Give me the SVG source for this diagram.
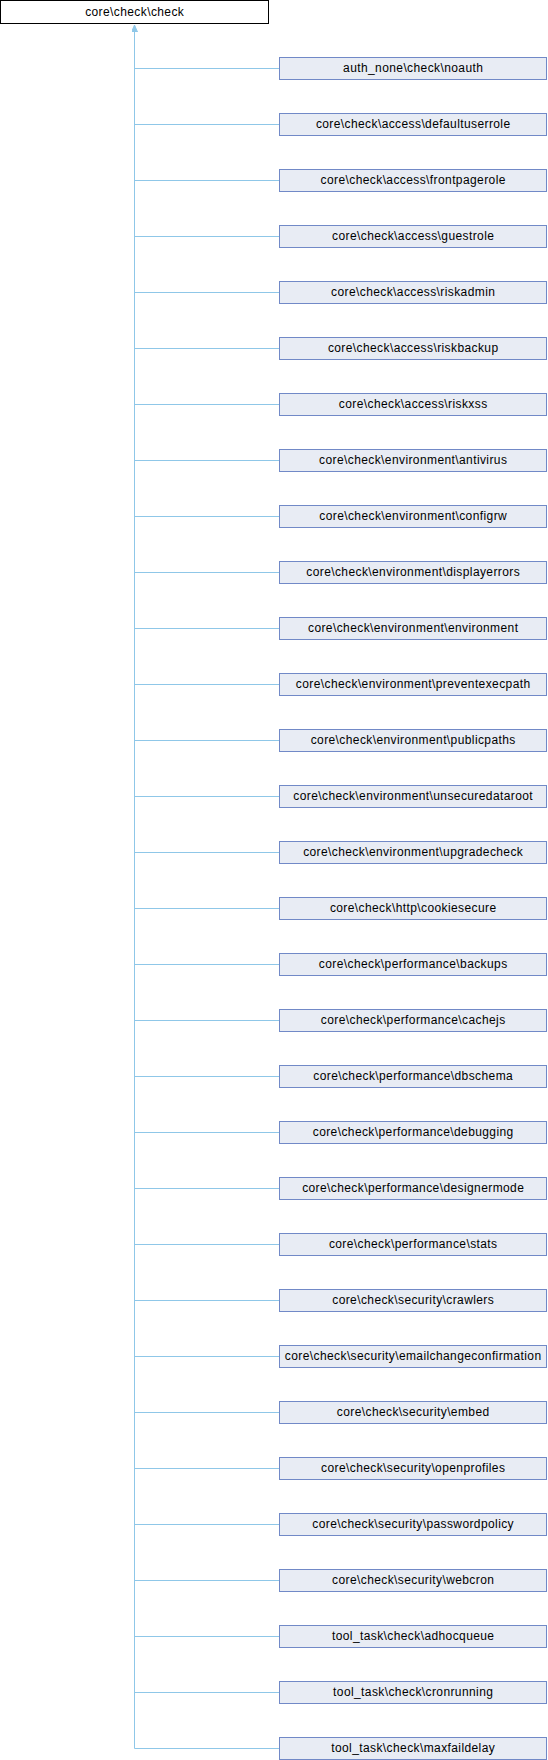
<svg xmlns="http://www.w3.org/2000/svg" width="548" height="1760" viewBox="0 0 548 1760">
<style>
.n rect{fill:#e8ecf4;stroke:#7189c7;stroke-width:1}
.r rect{fill:#ffffff;stroke:#000000;stroke-width:1}
text{font-family:"Liberation Sans",Arial,sans-serif;font-size:12px;letter-spacing:0.4px;text-anchor:middle;fill:#000}
.e{fill:none;stroke:#8fc7e8;stroke-width:1}
</style>
<defs>
<marker id="ah" markerWidth="8" markerHeight="8" refX="7" refY="3" orient="auto" markerUnits="userSpaceOnUse">
<path d="M0,0 L7,3 L0,6 Z" fill="#8fc7e8" stroke="#8fc7e8"/>
</marker>
</defs>
<g id="connectors">
<path class="e" d="M134.5,1748.5 V25" marker-end="url(#ah)"/>
<path class="e" d="M134.5,68.5H279M134.5,124.5H279M134.5,180.5H279M134.5,236.5H279M134.5,292.5H279M134.5,348.5H279M134.5,404.5H279M134.5,460.5H279M134.5,516.5H279M134.5,572.5H279M134.5,628.5H279M134.5,684.5H279M134.5,740.5H279M134.5,796.5H279M134.5,852.5H279M134.5,908.5H279M134.5,964.5H279M134.5,1020.5H279M134.5,1076.5H279M134.5,1132.5H279M134.5,1188.5H279M134.5,1244.5H279M134.5,1300.5H279M134.5,1356.5H279M134.5,1412.5H279M134.5,1468.5H279M134.5,1524.5H279M134.5,1580.5H279M134.5,1636.5H279M134.5,1692.5H279M134.5,1748.5H279"/>
</g>
<g id="root" class="r"><rect x="0.5" y="0.5" width="268" height="23"/><text x="134.7" y="15.5">core\check\check</text></g>
<g id="n0" class="n"><rect x="279.5" y="57.5" width="267" height="22"/><text x="413.2" y="71.5">auth_none\check\noauth</text></g>
<g id="n1" class="n"><rect x="279.5" y="113.5" width="267" height="22"/><text x="413.2" y="127.5">core\check\access\defaultuserrole</text></g>
<g id="n2" class="n"><rect x="279.5" y="169.5" width="267" height="22"/><text x="413.2" y="183.5">core\check\access\frontpagerole</text></g>
<g id="n3" class="n"><rect x="279.5" y="225.5" width="267" height="22"/><text x="413.2" y="239.5">core\check\access\guestrole</text></g>
<g id="n4" class="n"><rect x="279.5" y="281.5" width="267" height="22"/><text x="413.2" y="295.5">core\check\access\riskadmin</text></g>
<g id="n5" class="n"><rect x="279.5" y="337.5" width="267" height="22"/><text x="413.2" y="351.5">core\check\access\riskbackup</text></g>
<g id="n6" class="n"><rect x="279.5" y="393.5" width="267" height="22"/><text x="413.2" y="407.5">core\check\access\riskxss</text></g>
<g id="n7" class="n"><rect x="279.5" y="449.5" width="267" height="22"/><text x="413.2" y="463.5">core\check\environment\antivirus</text></g>
<g id="n8" class="n"><rect x="279.5" y="505.5" width="267" height="22"/><text x="413.2" y="519.5">core\check\environment\configrw</text></g>
<g id="n9" class="n"><rect x="279.5" y="561.5" width="267" height="22"/><text x="413.2" y="575.5">core\check\environment\displayerrors</text></g>
<g id="n10" class="n"><rect x="279.5" y="617.5" width="267" height="22"/><text x="413.2" y="631.5">core\check\environment\environment</text></g>
<g id="n11" class="n"><rect x="279.5" y="673.5" width="267" height="22"/><text x="413.2" y="687.5">core\check\environment\preventexecpath</text></g>
<g id="n12" class="n"><rect x="279.5" y="729.5" width="267" height="22"/><text x="413.2" y="743.5">core\check\environment\publicpaths</text></g>
<g id="n13" class="n"><rect x="279.5" y="785.5" width="267" height="22"/><text x="413.2" y="799.5">core\check\environment\unsecuredataroot</text></g>
<g id="n14" class="n"><rect x="279.5" y="841.5" width="267" height="22"/><text x="413.2" y="855.5">core\check\environment\upgradecheck</text></g>
<g id="n15" class="n"><rect x="279.5" y="897.5" width="267" height="22"/><text x="413.2" y="911.5">core\check\http\cookiesecure</text></g>
<g id="n16" class="n"><rect x="279.5" y="953.5" width="267" height="22"/><text x="413.2" y="967.5">core\check\performance\backups</text></g>
<g id="n17" class="n"><rect x="279.5" y="1009.5" width="267" height="22"/><text x="413.2" y="1023.5">core\check\performance\cachejs</text></g>
<g id="n18" class="n"><rect x="279.5" y="1065.5" width="267" height="22"/><text x="413.2" y="1079.5">core\check\performance\dbschema</text></g>
<g id="n19" class="n"><rect x="279.5" y="1121.5" width="267" height="22"/><text x="413.2" y="1135.5">core\check\performance\debugging</text></g>
<g id="n20" class="n"><rect x="279.5" y="1177.5" width="267" height="22"/><text x="413.2" y="1191.5">core\check\performance\designermode</text></g>
<g id="n21" class="n"><rect x="279.5" y="1233.5" width="267" height="22"/><text x="413.2" y="1247.5">core\check\performance\stats</text></g>
<g id="n22" class="n"><rect x="279.5" y="1289.5" width="267" height="22"/><text x="413.2" y="1303.5">core\check\security\crawlers</text></g>
<g id="n23" class="n"><rect x="279.5" y="1345.5" width="267" height="22"/><text x="413.2" y="1359.5">core\check\security\emailchangeconfirmation</text></g>
<g id="n24" class="n"><rect x="279.5" y="1401.5" width="267" height="22"/><text x="413.2" y="1415.5">core\check\security\embed</text></g>
<g id="n25" class="n"><rect x="279.5" y="1457.5" width="267" height="22"/><text x="413.2" y="1471.5">core\check\security\openprofiles</text></g>
<g id="n26" class="n"><rect x="279.5" y="1513.5" width="267" height="22"/><text x="413.2" y="1527.5">core\check\security\passwordpolicy</text></g>
<g id="n27" class="n"><rect x="279.5" y="1569.5" width="267" height="22"/><text x="413.2" y="1583.5">core\check\security\webcron</text></g>
<g id="n28" class="n"><rect x="279.5" y="1625.5" width="267" height="22"/><text x="413.2" y="1639.5">tool_task\check\adhocqueue</text></g>
<g id="n29" class="n"><rect x="279.5" y="1681.5" width="267" height="22"/><text x="413.2" y="1695.5">tool_task\check\cronrunning</text></g>
<g id="n30" class="n"><rect x="279.5" y="1737.5" width="267" height="22"/><text x="413.2" y="1751.5">tool_task\check\maxfaildelay</text></g>
</svg>
